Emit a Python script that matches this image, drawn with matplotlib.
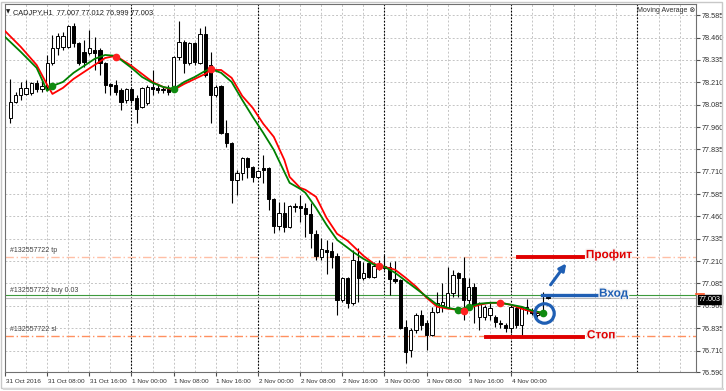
import numpy as np
import matplotlib.pyplot as plt
import matplotlib.patheffects as pe
from matplotlib.patches import Rectangle

plt.rcParams['font.family'] = ['Liberation Sans', 'DejaVu Sans']

# candle index = hours since 31 Oct 2016 00:00 (H1 bars)
hours = list(range(1, 104))
opens = [78.011, 78.101, 78.140, 78.145, 78.151, 78.207, 78.173, 78.184, 78.318, 78.402,
         78.408, 78.408, 78.525, 78.430, 78.380, 78.374, 78.391, 78.391, 78.318, 78.201,
         78.196, 78.168, 78.112, 78.173, 78.123, 78.073, 78.095, 78.184, 78.179, 78.168,
         78.173, 78.168, 78.352, 78.436, 78.318, 78.430, 78.318, 78.480, 78.307, 78.140,
         78.190, 77.927, 77.871, 77.665, 77.704, 77.788, 77.737, 77.681, 77.732, 77.732,
         77.559, 77.408, 77.480, 77.402, 77.519, 77.519, 77.508, 77.475, 77.363, 77.234,
         77.273, 77.268, 77.240, 76.994, 77.117, 76.977, 77.212, 77.117, 77.201, 77.123,
         77.195, 77.173, 77.178, 77.111, 77.106, 76.843, 76.715, 76.826, 76.910, 76.866,
         76.798, 76.927, 76.966, 76.955, 77.033, 77.145, 77.117, 76.994, 77.067, 76.899,
         76.899, 76.910, 76.899, 76.866, 76.854, 76.838, 76.949, 76.854, 76.955, 76.938,
         76.910, 76.910, 77.007]
highs = [78.229, 78.156, 78.212, 78.223, 78.212, 78.223, 78.223, 78.363, 78.475, 78.486,
         78.492, 78.531, 78.542, 78.436, 78.447, 78.503, 78.464, 78.402, 78.324, 78.207,
         78.223, 78.179, 78.179, 78.184, 78.140, 78.184, 78.196, 78.279, 78.196, 78.184,
         78.196, 78.358, 78.553, 78.447, 78.436, 78.436, 78.514, 78.525, 78.380, 78.196,
         78.196, 78.000, 77.877, 77.721, 77.793, 77.793, 77.743, 77.721, 77.804, 77.737,
         77.564, 77.542, 77.542, 77.525, 77.536, 77.581, 77.536, 77.536, 77.385, 77.341,
         77.329, 77.318, 77.257, 77.123, 77.123, 77.273, 77.285, 77.206, 77.218, 77.206,
         77.218, 77.246, 77.206, 77.212, 77.111, 76.882, 76.838, 76.921, 76.938, 76.882,
         76.955, 77.039, 77.089, 77.178, 77.162, 77.150, 77.234, 77.117, 77.089, 76.983,
         76.966, 76.977, 76.910, 76.882, 76.866, 76.966, 76.966, 76.960, 77.000, 76.949,
         76.932, 77.039, 77.012]
lows = [77.983, 78.095, 78.112, 78.140, 78.140, 78.156, 78.156, 78.168, 78.307, 78.363,
        78.391, 78.402, 78.408, 78.307, 78.296, 78.363, 78.279, 78.251, 78.151, 78.140,
        78.140, 78.056, 78.095, 78.095, 77.983, 78.067, 78.084, 78.140, 78.151, 78.151,
        78.140, 78.156, 78.335, 78.263, 78.307, 78.307, 78.313, 78.240, 77.983, 78.129,
        77.922, 77.849, 77.536, 77.581, 77.665, 77.676, 77.654, 77.676, 77.648, 77.497,
        77.369, 77.385, 77.374, 77.396, 77.486, 77.430, 77.346, 77.285, 77.218, 77.218,
        77.140, 77.173, 76.910, 76.983, 76.949, 76.966, 76.983, 77.106, 77.117, 77.117,
        77.162, 77.162, 77.022, 77.089, 76.832, 76.642, 76.676, 76.810, 76.826, 76.715,
        76.793, 76.921, 76.927, 76.949, 77.011, 77.011, 76.882, 76.938, 76.866, 76.826,
        76.882, 76.882, 76.843, 76.838, 76.815, 76.810, 76.838, 76.787, 76.916, 76.910,
        76.899, 76.905, 76.999]
closes = [78.101, 78.140, 78.179, 78.179, 78.207, 78.173, 78.190, 78.318, 78.402, 78.469,
          78.469, 78.525, 78.430, 78.318, 78.324, 78.402, 78.374, 78.318, 78.196, 78.190,
          78.156, 78.101, 78.173, 78.112, 78.061, 78.179, 78.184, 78.173, 78.168, 78.173,
          78.156, 78.352, 78.436, 78.318, 78.430, 78.324, 78.480, 78.251, 78.140, 78.184,
          77.927, 77.871, 77.665, 77.704, 77.788, 77.737, 77.681, 77.715, 77.721, 77.559,
          77.408, 77.480, 77.402, 77.519, 77.514, 77.508, 77.475, 77.369, 77.240, 77.279,
          77.262, 77.234, 76.994, 77.117, 76.977, 77.218, 77.117, 77.145, 77.123, 77.184,
          77.173, 77.184, 77.111, 77.100, 76.838, 76.704, 76.826, 76.910, 76.854, 76.798,
          76.927, 76.977, 76.983, 77.033, 77.134, 77.117, 76.994, 77.067, 76.966, 76.977,
          76.955, 76.949, 76.871, 76.860, 76.838, 76.955, 76.854, 76.955, 76.938, 76.921,
          76.921, 76.927, 77.003]

# moving averages
ma_idx = [0, 3, 6, 8, 9, 11, 13, 15, 17, 19, 21, 24, 26, 28, 30, 32, 34, 36, 38, 39, 41, 43,
          45, 47, 49, 51, 53, 54, 56, 57, 59, 61, 63, 65, 66, 68, 70, 72, 74, 76, 78, 80,
          82, 84, 86, 88, 90, 92, 94, 96, 98, 100, 102]
ma_red = [78.497, 78.408, 78.307, 78.196, 78.145, 78.179, 78.229, 78.268, 78.307, 78.346,
          78.358, 78.302, 78.257, 78.212, 78.184, 78.168, 78.201, 78.229, 78.257, 78.279,
          78.279, 78.235, 78.134, 78.067, 77.978, 77.905, 77.776, 77.681, 77.620, 77.609,
          77.570, 77.452, 77.363, 77.324, 77.296, 77.240, 77.195, 77.178, 77.162, 77.117,
          77.067, 77.005, 76.955, 76.944, 76.938, 76.949, 76.966, 76.977, 76.977, 76.966,
          76.944, 76.927, 76.921]
ma_green = [78.464, 78.380, 78.291, 78.162, 78.190, 78.212, 78.263, 78.302, 78.341, 78.363,
            78.358, 78.291, 78.240, 78.207, 78.184, 78.173, 78.212, 78.240, 78.274, 78.285,
            78.263, 78.212, 78.112, 78.017, 77.927, 77.832, 77.709, 77.648, 77.614, 77.592,
            77.508, 77.413, 77.329, 77.285, 77.262, 77.223, 77.190, 77.178, 77.145, 77.100,
            77.056, 77.011, 76.966, 76.949, 76.938, 76.955, 76.972, 76.977, 76.977, 76.966,
            76.955, 76.933, 76.921]
green_dot_idx = [9, 32, 86, 88, 102]
green_dot_val = [78.190, 78.173, 76.938, 76.955, 76.921]
red_dot_idx = [21, 39, 71, 87, 94]
red_dot_val = [78.352, 78.285, 77.184, 76.933, 76.977]

yticks = [78.585, 78.460, 78.335, 78.210, 78.085, 77.960, 77.835, 77.710, 77.585,
          77.460, 77.335, 77.210, 77.085, 76.960, 76.835, 76.710, 76.590]
xlabels = ['31 Oct 2016', '31 Oct 08:00', '31 Oct 16:00', '1 Nov 00:00', '1 Nov 08:00',
           '1 Nov 16:00', '2 Nov 00:00', '2 Nov 08:00', '2 Nov 16:00', '3 Nov 00:00',
           '3 Nov 08:00', '3 Nov 16:00', '4 Nov 00:00']

tp_price = 77.234
sl_price = 76.791
buy_price = 77.018
bid_price = 77.003

fig = plt.figure(figsize=(7.26, 3.91), dpi=100)
W, H = 726, 391
ax = fig.add_axes([5 / W, 19 / H, 691 / W, 368 / H])
ax.set_xlim(0.38, 131.1)
ax.set_ylim(76.592, 78.648)

# grid
for v in yticks:
    ax.axhline(v, color='#c4c4c4', lw=0.7, ls=(0, (2, 2)), zorder=0)
for i in range(0, 132, 4):
    ax.axvline(i, color='#c4c4c4', lw=0.7, ls=(0, (2, 2)), zorder=0)
for i in range(24, 132, 24):
    ax.axvline(i, color='black', lw=0.8, ls=(0, (1.5, 1.5)), zorder=0.5)

# order lines
ax.axhline(tp_price, color='#ffbfa6', lw=1, ls=(0, (6, 2, 1, 2)), zorder=0.6)
ax.axhline(sl_price, color='#ff9060', lw=1, ls=(0, (6, 2, 1, 2)), zorder=0.6)
ax.axhline(bid_price, color='#b8b8b8', lw=0.8, zorder=0.6)
ax.axhline(buy_price, color='#3c9a3c', lw=0.8, zorder=0.6)

# candles
x = np.array(hours)
o = np.array(opens); c = np.array(closes)
ax.vlines(x, lows, highs, color='black', lw=0.8, zorder=2)
bull = c >= o
bot = np.minimum(o, c)
hgt = np.maximum(np.abs(c - o), 0.003)
ax.bar(x[bull], hgt[bull], bottom=bot[bull], width=0.62, facecolor='white',
       edgecolor='black', lw=0.7, zorder=3)
ax.bar(x[~bull], hgt[~bull], bottom=bot[~bull], width=0.62, facecolor='black',
       edgecolor='black', lw=0.7, zorder=3)

# moving averages
ax.plot(ma_idx, ma_red, color='#ff0000', lw=1.3, zorder=4)
ax.plot(ma_idx, ma_green, color='#008000', lw=1.3, zorder=4)
ax.plot(green_dot_idx, green_dot_val, 'o', color='#108a10', ms=4.5, zorder=5)
ax.plot(red_dot_idx, red_dot_val, 'o', color='#ff2020', ms=4.5, zorder=5)

# trade annotations
ax.plot([97.3, 109.6], [tp_price, tp_price], color='#e00000', lw=2.8, zorder=6)
ax.plot([91.2, 109.6], [sl_price - 0.006, sl_price - 0.006], color='#e00000', lw=2.8, zorder=6)
ax.plot([101.8, 112.4], [buy_price, buy_price], color='#1f5fb4', lw=2.4, zorder=6)
ax.plot([102.2], [76.921], 'o', mfc='none', mec='#1f5fb4', mew=2.3, ms=14, zorder=7)
ax.annotate('', xy=(106.8, 77.210), xytext=(103.2, 77.065),
            arrowprops=dict(arrowstyle='-|>', color='#1f5fb4', lw=2.2,
                            mutation_scale=10), zorder=7)
halo = [pe.withStroke(linewidth=2, foreground='#f4f4f4')]
ax.text(110.2, tp_price + 0.01, 'Профит', color='#e00000', fontsize=8.5,
        fontweight='bold', va='center', path_effects=halo, zorder=8)
ax.text(112.7, buy_price + 0.01, 'Вход', color='#1f5fb4', fontsize=8.5,
        fontweight='bold', va='center', path_effects=halo, zorder=8)
ax.text(110.4, sl_price + 0.004, 'Стоп', color='#e00000', fontsize=8.5,
        fontweight='bold', va='center', path_effects=halo, zorder=8)

# order labels at left
ax.text(1.0, tp_price + 0.028, '#132557722 tp', fontsize=5, color='#404040')
ax.text(1.0, buy_price + 0.018, '#132557722 buy 0.03', fontsize=5, color='#404040')
ax.text(1.0, sl_price + 0.028, '#132557722 sl', fontsize=5, color='#404040')

# header
ax.text(0.012, 0.985, 'CADJPY,H1  77.007 77.012 76.999 77.003', transform=ax.transAxes,
        fontsize=5.3, va='top', color='#202020')
ax.text(0.002, 0.985, '▼', transform=ax.transAxes, fontsize=4, va='top',
        family='DejaVu Sans', color='#202020')
ax.text(0.915, 0.992, 'Moving Average ⊗', transform=ax.transAxes, fontsize=5,
        va='top', color='#303030', family=['Liberation Sans', 'DejaVu Sans'])

# axes styling
ax.yaxis.tick_right()
ax.set_yticks(yticks)
ax.set_yticklabels(['%.3f' % v for v in yticks], fontsize=5.2, color='#303030')
ax.tick_params(axis='y', length=3, width=0.8, color='#505050', pad=1)
ax.set_xticks(range(0, 104, 8))
ax.set_xticklabels([])
ax.tick_params(axis='x', length=3, width=0.8, color='#505050')
for i, lab in zip(range(0, 104, 8), xlabels):
    ax.text(i + 0.1, -0.018, lab, transform=ax.get_xaxis_transform(), fontsize=4.6,
            va='top', ha='left', color='#303030', clip_on=False)
for s in ax.spines.values():
    s.set_color('#707070')
    s.set_linewidth(0.8)

# bid price marker on the axis
ax.text(1.004, bid_price - 0.006, '77.003', transform=ax.get_yaxis_transform(),
        fontsize=5.2, color='white', va='center', ha='left',
        bbox=dict(boxstyle='square,pad=0.15', fc='black', ec='black'))
ax.plot([131.1, 132.6], [buy_price + 0.01, buy_price + 0.01], color='#ff5020', lw=1.2,
        clip_on=False, zorder=9)

# window frame
fig.patches.append(Rectangle((1 / W, 3 / H), 721 / W, 386 / H, transform=fig.transFigure,
                             fill=False, ec='#c8c8c8', lw=1))
fig.patches.append(Rectangle((3 / W, 1 / H), 721 / W, 2 / H, transform=fig.transFigure,
                             fc='#d8d8d8', ec='none'))

fig.savefig('out.png', dpi=100)
